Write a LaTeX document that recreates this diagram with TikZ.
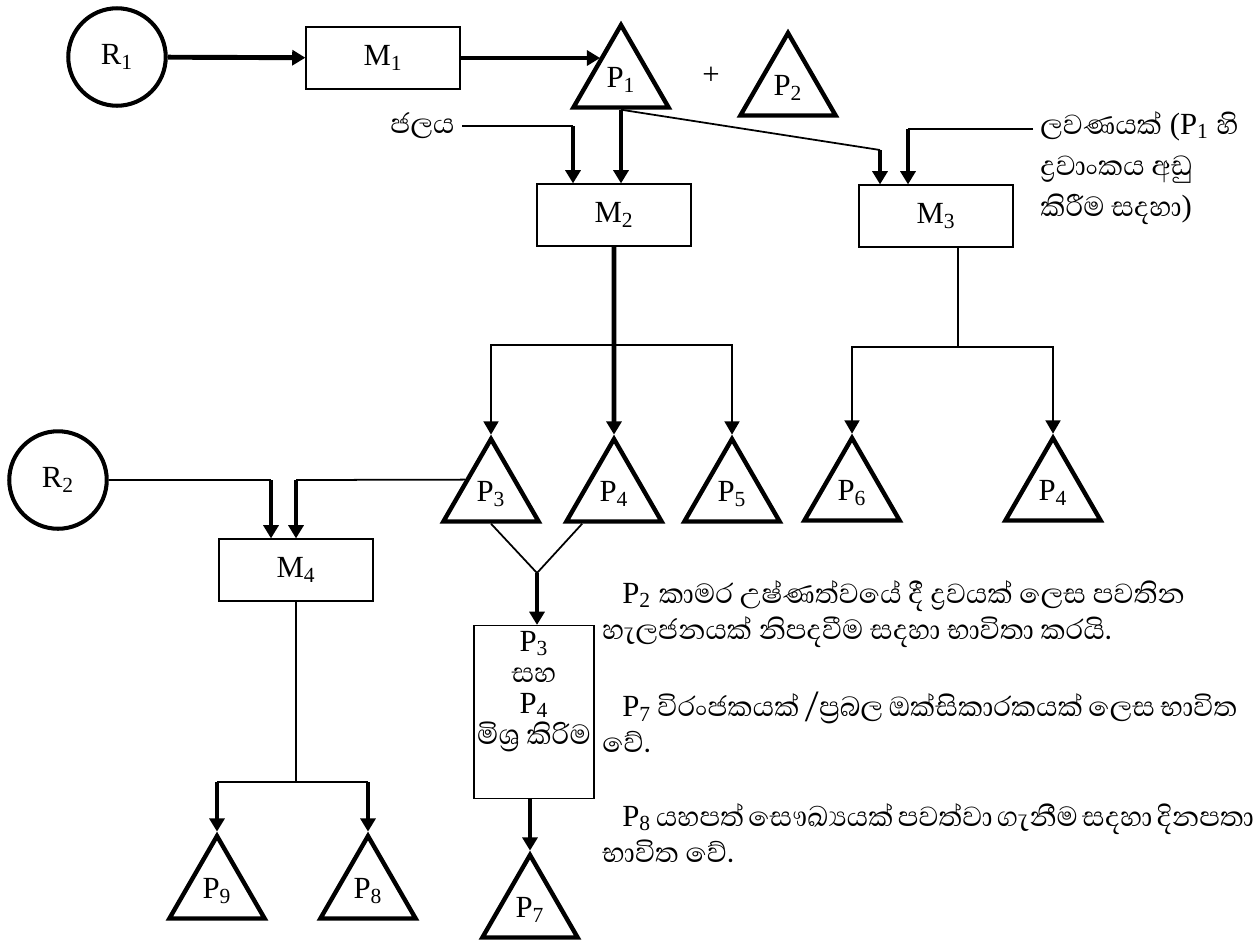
\documentclass[tikz,border=0pt]{standalone}
\usepackage{fontspec}
\setmainfont{Liberation Serif}
\newfontfamily\sinfont[Script=Sinhala, Scale=1.15]{Abhaya Libre}
\usepackage{tikz}
\usetikzlibrary{shapes.geometric,arrows.meta}
\newcommand{\Psub}[1]{P\textsubscript{#1}}
\newcommand{\lbl}{\fontsize{17.5}{20.5}\selectfont\lineskiplimit=-20pt}
\tikzset{
  flownode/.style = {align=center, inner sep=0pt, text centered,
    font=\lbl},
  fl_r/.style = {flownode, circle, draw, line width=2.3pt,
    minimum size=1.95cm},% raw material
  fl_m/.style = {flownode, rectangle, draw, line width=0.7pt,
    minimum width=3.08cm, minimum height=1.24cm},% process box
  fl_p/.style = {flownode, regular polygon, regular polygon sides=3, draw,
    line width=2.5pt, minimum size=2.2cm},% product
  fl_t/.style = {font=\lbl, inner sep=0pt, align=left},% side text
}

\begin{document}
\begin{tikzpicture}[x=0.02cm, y=-0.02cm,
  >={Triangle[length=7.5pt,width=8.5pt]},
  fat/.style = {line width=2.8pt},
  thn/.style = {line width=1pt},
]
\useasboundingbox (0,0) rectangle (1256,944);

\node [fl_r] (R1) at (117,57) {R\textsubscript{1}};
\node [fl_m] (M1) at (383,58) {M\textsubscript{1}};
\node [fl_p] (P1) at (621,80) {\Psub{1}};
\node [flownode] (plus) at (711,76) {+};
\node [fl_p] (P2) at (788,88) {\Psub{2}};
\node [fl_t, anchor=east, inner xsep=4pt] (water) at (462,126) {\sinfont ජලය};
\node [fl_t, anchor=north west, inner xsep=4pt, font={\fontsize{17.5}{23.4}\selectfont\lineskiplimit=-20pt}] (salt) at (1033,111)
  {{\sinfont ලවණයක්} (\Psub{1} {\sinfont හි}\\{\sinfont ද්^^^^200dරවාංකය අඩු}\\{\sinfont කිරීම සදහා})};
\node [fl_m] (M2) at (614,215) {M\textsubscript{2}};
\node [fl_m] (M3) at (936,216) {M\textsubscript{3}};

\node [fl_p] (P3) at (491,494) {\Psub{3}};
\node [fl_p] (P4) at (614,494) {\Psub{4}};
\node [fl_p] (P5) at (732,494) {\Psub{5}};
\node [fl_p] (P6) at (852,493) {\Psub{6}};
\node [fl_p] (P4b) at (1053,493) {\Psub{4}};
\node [fl_r] (R2) at (58,480) {R\textsubscript{2}};
\node [fl_m] (M4) at (296,570) {M\textsubscript{4}};

\node [fl_m, minimum width=2.4cm, minimum height=3.46cm] (mix) at (534,712)
  {\parbox[t][3.3cm][t]{2.4cm}{\centering\fontsize{17.5}{17.6}\selectfont\lineskiplimit=-20pt
   \vspace*{1pt}\Psub{3}\\{\sinfont සහ}\\\Psub{4}\\{\sinfont මිශ්^^^^200dර කිරිම}}};
\node [fl_p] (P9) at (217,891) {\Psub{9}};
\node [fl_p] (P8) at (368,891) {\Psub{8}};
\node [fl_p] (P7) at (530,910) {\Psub{7}};

\node [fl_t, anchor=north west] (noteA) at (602,580)
  {\hspace*{0.4cm}\Psub{2} {\sinfont කාමර උෂ්ණත්වයේ දී ද්^^^^200dරවයක් ලෙස පවතින}\\
   {\sinfont හැලජනයක් නිපදවීම සදහා භාවිතා කරයි.}};
\node [fl_t, anchor=north west] (noteB) at (602,692)
  {\hspace*{0.4cm}\makebox[12.3cm][s]{\Psub{7} {\sinfont විරංජකයක් /ප්^^^^200dරබල ඔක්සිකාරකයක් ලෙස භාවිත}}\\
   {\sinfont වේ.}};
\node [fl_t, anchor=north west] (noteC) at (602,803)
  {\hspace*{0.4cm}\makebox[12.36cm][s]{\Psub{8} {\sinfont\spaceskip=0.12em plus 1em
   යහපත් සෞඛ්^^^^200dයයක් පවත්වා ගැනීම සදහා දිනපතා}}\\
   {\sinfont භාවිත වේ.}};

\draw [fat,->] (R1) -- (M1);
\draw [fat,->] (M1.east) -- (M1.east -| P1.132);
\coordinate (wbend) at (573,126);
\draw [thn] (water) -- (wbend);
\draw [fat,->] (wbend) -- (wbend |- M2.north);
\draw [fat,->] (P1.south) -- (P1.south |- M2.north);
\coordinate (m3a) at (880,150);
\draw [thn] (P1.south) -- (m3a);
\draw [fat,->] (m3a) -- (m3a |- M3.north);
\coordinate (m3b) at (908,129);
\draw [thn] (salt.west |- m3b) -- (m3b);
\draw [fat,->] (m3b) -- (m3b |- M3.north);

\draw [fat,->] (M2.south) -- (P4.north);
\coordinate (m2f) at (614,345);
\draw [thn,->] (m2f) -| (P3.north);
\draw [thn,->] (m2f) -| (P5.north);
\coordinate (m3f) at (958,347);
\draw [thn] (M3.south -| m3f) -- (m3f);
\draw [thn,->] (m3f) -| (P6.north);
\draw [thn,->] (m3f) -| (P4b.north);

\coordinate (r2b) at (271,480);
\draw [thn] (R2) -- (r2b);
\draw [fat,->] (r2b) -- (r2b |- M4.north);
\coordinate (p3b) at (296,480);
\draw [thn] (P3.151) -- (p3b);
\draw [fat,->] (p3b) -- (p3b |- M4.north);
\coordinate (m4f) at (296,782);
\draw [thn] (M4.south) -- (m4f);
\draw [thn] (P9.north |- m4f) -- (P8.north |- m4f);
\draw [fat,->] (P9.north |- m4f) -- (P9.north);
\draw [fat,->] (P8.north |- m4f) -- (P8.north);

\coordinate (mixj) at (537,573);
\draw [thn] (P3.south) -- (mixj) -- (P4.223);
\draw [fat,->] (mixj) -- (mixj |- mix.north);
\draw [fat,->] (mix.south -| P7.north) -- (P7.north);
\end{tikzpicture}
\end{document}
